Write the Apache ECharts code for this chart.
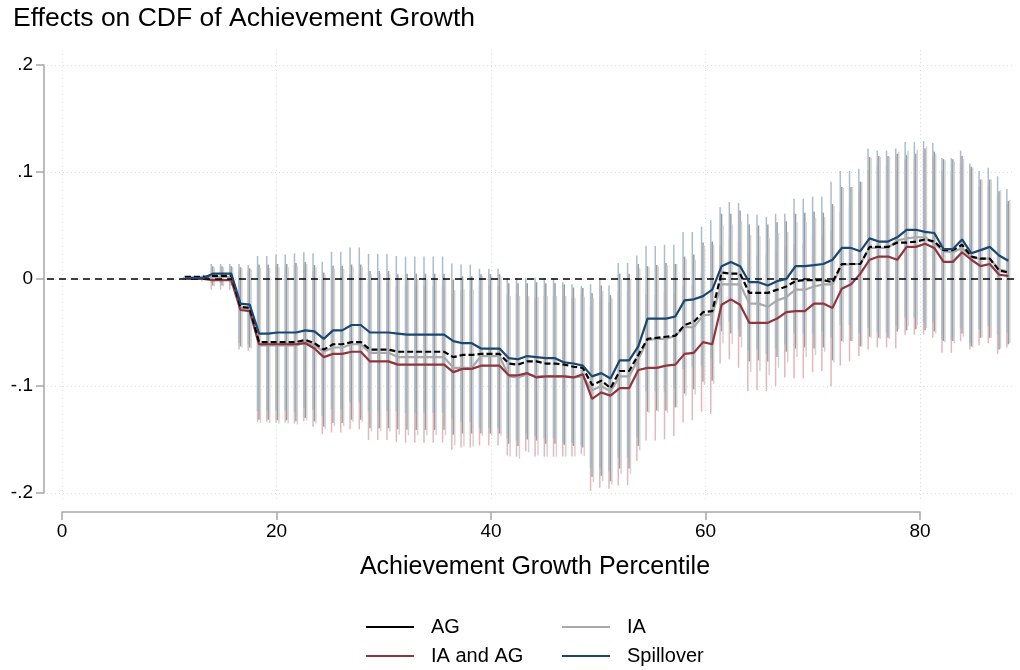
<!DOCTYPE html>
<html>
<head>
<meta charset="utf-8">
<script src="https://cdn.jsdelivr.net/npm/echarts/dist/echarts.min.js"></script>
<style>
  body { margin: 0; background: #fff; }
  #chart { width: 1020px; height: 670px; }
</style>
</head>
<body>
<div id="chart"></div>
<script>
// percentile positions of the estimates
const xs = [11.46,12.32,13.18,14.05,14.91,15.77,16.63,17.49,18.36,19.22,
  20.08,20.94,21.80,22.67,23.53,24.39,25.25,26.11,26.98,27.84,
  28.70,29.56,30.42,31.29,32.15,33.01,33.87,34.73,35.60,36.46,
  37.32,38.18,39.04,39.91,40.77,41.63,42.49,43.35,44.22,45.08,
  45.94,46.80,47.66,48.53,49.39,50.25,51.11,51.97,52.84,53.70,
  54.56,55.42,56.28,57.15,58.01,58.87,59.73,60.59,61.46,62.32,
  63.18,64.04,64.90,65.77,66.63,67.49,68.35,69.21,70.08,70.94,
  71.80,72.66,73.52,74.39,75.25,76.11,76.97,77.83,78.70,79.56,
  80.42,81.28,82.14,83.01,83.87,84.73,85.59,86.45,87.32,88.18];

const ag = [0.002,0.002,0.002,0.003,0.003,0.003,-0.026,-0.027,-0.059,-0.059,
  -0.059,-0.059,-0.059,-0.057,-0.060,-0.066,-0.061,-0.061,-0.059,-0.059,
  -0.066,-0.066,-0.066,-0.068,-0.068,-0.068,-0.068,-0.068,-0.068,-0.073,
  -0.071,-0.071,-0.070,-0.070,-0.070,-0.079,-0.080,-0.077,-0.077,-0.079,
  -0.079,-0.080,-0.082,-0.083,-0.099,-0.095,-0.102,-0.086,-0.086,-0.071,
  -0.056,-0.055,-0.054,-0.053,-0.043,-0.040,-0.031,-0.030,0.006,0.005,
  0.005,-0.013,-0.013,-0.013,-0.010,-0.007,-0.002,-0.001,-0.001,-0.001,
  -0.003,0.014,0.014,0.014,0.030,0.030,0.030,0.034,0.034,0.035,
  0.037,0.035,0.027,0.027,0.032,0.021,0.019,0.019,0.008,0.006];

const ia = [0.001,0.001,0.001,0.002,0.002,0.002,-0.027,-0.028,-0.062,-0.062,
  -0.062,-0.062,-0.062,-0.059,-0.062,-0.068,-0.064,-0.064,-0.061,-0.061,
  -0.069,-0.069,-0.069,-0.073,-0.073,-0.073,-0.073,-0.073,-0.073,-0.083,
  -0.083,-0.083,-0.072,-0.072,-0.072,-0.091,-0.092,-0.089,-0.091,-0.091,
  -0.091,-0.091,-0.092,-0.091,-0.104,-0.100,-0.105,-0.091,-0.091,-0.075,
  -0.057,-0.056,-0.056,-0.053,-0.045,-0.045,-0.034,-0.033,-0.005,-0.005,
  -0.005,-0.023,-0.023,-0.026,-0.020,-0.017,-0.010,-0.010,-0.007,-0.005,
  -0.005,0.013,0.014,0.014,0.029,0.029,0.029,0.036,0.038,0.039,
  0.039,0.033,0.026,0.025,0.029,0.020,0.019,0.019,0.009,0.007];

const iaag = [0.000,0.000,0.000,-0.001,-0.001,-0.001,-0.029,-0.030,-0.061,-0.061,
  -0.061,-0.061,-0.061,-0.060,-0.065,-0.073,-0.070,-0.070,-0.068,-0.068,
  -0.077,-0.077,-0.077,-0.080,-0.080,-0.080,-0.080,-0.080,-0.080,-0.087,
  -0.084,-0.084,-0.081,-0.081,-0.081,-0.090,-0.090,-0.088,-0.092,-0.091,
  -0.091,-0.091,-0.092,-0.089,-0.112,-0.106,-0.109,-0.102,-0.102,-0.085,
  -0.083,-0.083,-0.081,-0.080,-0.070,-0.069,-0.059,-0.061,-0.024,-0.019,
  -0.024,-0.041,-0.041,-0.041,-0.037,-0.031,-0.030,-0.030,-0.023,-0.023,
  -0.027,-0.009,-0.005,0.005,0.018,0.021,0.021,0.018,0.030,0.030,
  0.033,0.029,0.016,0.016,0.025,0.018,0.012,0.014,0.004,0.003];

const spill = [0.001,0.001,0.001,0.005,0.005,0.005,-0.023,-0.024,-0.051,-0.051,
  -0.050,-0.050,-0.050,-0.048,-0.049,-0.056,-0.048,-0.048,-0.043,-0.043,
  -0.050,-0.050,-0.050,-0.051,-0.052,-0.052,-0.052,-0.052,-0.052,-0.058,
  -0.060,-0.060,-0.065,-0.065,-0.065,-0.074,-0.075,-0.072,-0.073,-0.074,
  -0.074,-0.078,-0.079,-0.081,-0.091,-0.088,-0.093,-0.076,-0.076,-0.063,
  -0.037,-0.037,-0.037,-0.035,-0.020,-0.019,-0.016,-0.010,0.012,0.016,
  0.012,-0.003,-0.003,-0.006,-0.002,0.000,0.012,0.012,0.013,0.014,
  0.018,0.029,0.029,0.026,0.038,0.035,0.035,0.039,0.046,0.046,
  0.044,0.043,0.028,0.028,0.037,0.024,0.027,0.030,0.022,0.017];

// half-width of the 95% intervals
const ciHalf = [0.001,0.001,0.002,0.009,0.009,0.009,0.037,0.037,0.0725,0.0725,
  0.073,0.073,0.074,0.073,0.073,0.072,0.0735,0.0735,0.0725,0.0725,
  0.0735,0.0735,0.0735,0.0725,0.073,0.073,0.073,0.073,0.073,0.0725,
  0.0735,0.0735,0.0745,0.0745,0.0745,0.075,0.076,0.073,0.074,0.075,
  0.075,0.075,0.074,0.0745,0.086,0.089,0.087,0.091,0.091,0.085,
  0.068,0.068,0.069,0.067,0.064,0.063,0.065,0.065,0.055,0.056,
  0.059,0.064,0.063,0.064,0.063,0.061,0.063,0.063,0.064,0.063,
  0.073,0.072,0.072,0.077,0.084,0.085,0.085,0.083,0.082,0.082,
  0.085,0.084,0.085,0.085,0.083,0.084,0.074,0.074,0.074,0.067];

const xTicks = [0, 20, 40, 60, 80];
const yTicks = [-0.2, -0.1, 0, 0.1, 0.2];

const FONT = "'Liberation Sans', Arial, sans-serif";
const AXIS_GRAY = '#a6a6a6';

const myChart = echarts.init(document.getElementById('chart'));

// 置信區間 custom series
function ciSeries(name, est, color, dx) {
  return {
    type: 'custom',
    name: name + ' CI',
    xAxisIndex: 0,
    yAxisIndex: 0,
    silent: true,
    z: 1,
    data: xs.map((x, i) => [x, est[i] - ciHalf[i], est[i] + ciHalf[i]]),
    encode: { x: 0, y: [1, 2] },
    renderItem: (params, api) => {
      const a = api.coord([api.value(0), api.value(1)]);
      const b = api.coord([api.value(0), api.value(2)]);
      return {
        type: 'line',
        shape: { x1: a[0] + dx, y1: a[1], x2: b[0] + dx, y2: b[1] },
        style: { stroke: color, lineWidth: 1.5 }
      };
    }
  };
}

function lineSeries(name, est, color, type, z) {
  return {
    type: 'line',
    name: name,
    xAxisIndex: 0,
    yAxisIndex: 0,
    symbol: 'none',
    z: z,
    data: xs.map((x, i) => [x, est[i]]),
    lineStyle: { color: color, width: 2.2, type: type },
    itemStyle: { color: color }
  };
}

function legendItem(name, left, top) {
  return {
    data: [name],
    left: left,
    top: top,
    padding: 0,
    icon: 'rect',
    itemWidth: 48,
    itemHeight: 2,
    selectedMode: false,
    textStyle: { fontSize: 20, color: '#000', fontFamily: FONT, padding: [0, 0, 0, 12] }
  };
}

myChart.setOption({
  animation: false,
  title: {
    text: 'Effects on CDF of Achievement Growth',
    left: 13,
    top: 5,
    padding: 0,
    textStyle: { fontSize: 26.5, fontWeight: 'normal', color: '#000', fontFamily: FONT }
  },
  graphic: [{
    type: 'text',
    x: 535,
    y: 567,
    style: {
      text: 'Achievement Growth Percentile',
      fontSize: 25,
      fontFamily: FONT,
      fill: '#000',
      textAlign: 'center',
      textVerticalAlign: 'middle'
    }
  }],
  legend: [
    legendItem('AG', 366, 617),
    legendItem('IA', 562, 617),
    legendItem('IA and AG', 366, 646),
    legendItem('Spillover', 562, 646)
  ],
  grid: [
    { left: 47, right: 5, top: 65, bottom: 177, outerBoundsMode: 'none' },
    { left: 62, width: 858, top: 50, bottom: 170, outerBoundsMode: 'none' }
  ],
  xAxis: [
    { type: 'value', gridIndex: 0, min: -1.4, max: 88.8, show: false },
    {
      type: 'value', gridIndex: 1, min: 0, max: 80, interval: 20,
      position: 'bottom', offset: 12,
      axisLine: { show: true, onZero: false, lineStyle: { color: AXIS_GRAY, width: 1.5 } },
      axisTick: { show: true, length: 8, lineStyle: { color: AXIS_GRAY, width: 1.5 } },
      axisLabel: {
        fontSize: 19, color: '#000', fontFamily: FONT, margin: 10,
        showMinLabel: true, showMaxLabel: true,
        formatter: v => (xTicks.indexOf(v) >= 0 ? String(v) : '')
      },
      splitLine: { show: true, lineStyle: { color: '#dcdcdc', type: [1, 3], width: 1 } }
    }
  ],
  yAxis: [
    {
      type: 'value', gridIndex: 0, min: -0.2, max: 0.2, interval: 0.1, offset: 3,
      axisLine: { show: true, onZero: false, lineStyle: { color: AXIS_GRAY, width: 1.5 } },
      axisTick: { show: true, length: 8, lineStyle: { color: AXIS_GRAY, width: 1.5 } },
      axisLabel: {
        fontSize: 19, color: '#000', fontFamily: FONT, margin: 11,
        showMinLabel: true, showMaxLabel: true,
        formatter: v => {
          const t = yTicks.find(k => Math.abs(k - v) < 1e-9);
          if (t === undefined) return '';
          if (t === 0) return '0';
          return (t < 0 ? '-' : '') + Math.abs(t).toFixed(1).replace(/^0/, '');
        }
      },
      splitLine: { show: true, lineStyle: { color: '#dcdcdc', type: [1, 3], width: 1 } }
    },
    { type: 'value', gridIndex: 1, min: 0, max: 1, show: false }
  ],
  series: [
    ciSeries('IA and AG', iaag, '#e3b7bb', -1.5),
    ciSeries('Spillover', spill, '#a9bdd2', -1.5),
    ciSeries('AG', ag, '#9c9c9c', 0),
    ciSeries('IA', ia, '#d2d2d2', 1.4),
    lineSeries('IA', ia, '#a9a9a9', 'solid', 3),
    lineSeries('IA and AG', iaag, '#90353b', 'solid', 4),
    Object.assign(lineSeries('AG', ag, '#000000', [6, 3], 5), {
      markLine: {
        silent: true,
        symbol: 'none',
        label: { show: false },
        lineStyle: { color: '#000', type: [7, 5], width: 1.5 },
        data: [{ yAxis: 0 }]
      }
    }),
    lineSeries('Spillover', spill, '#1a476f', 'solid', 6)
  ]
});
</script>
</body>
</html>
